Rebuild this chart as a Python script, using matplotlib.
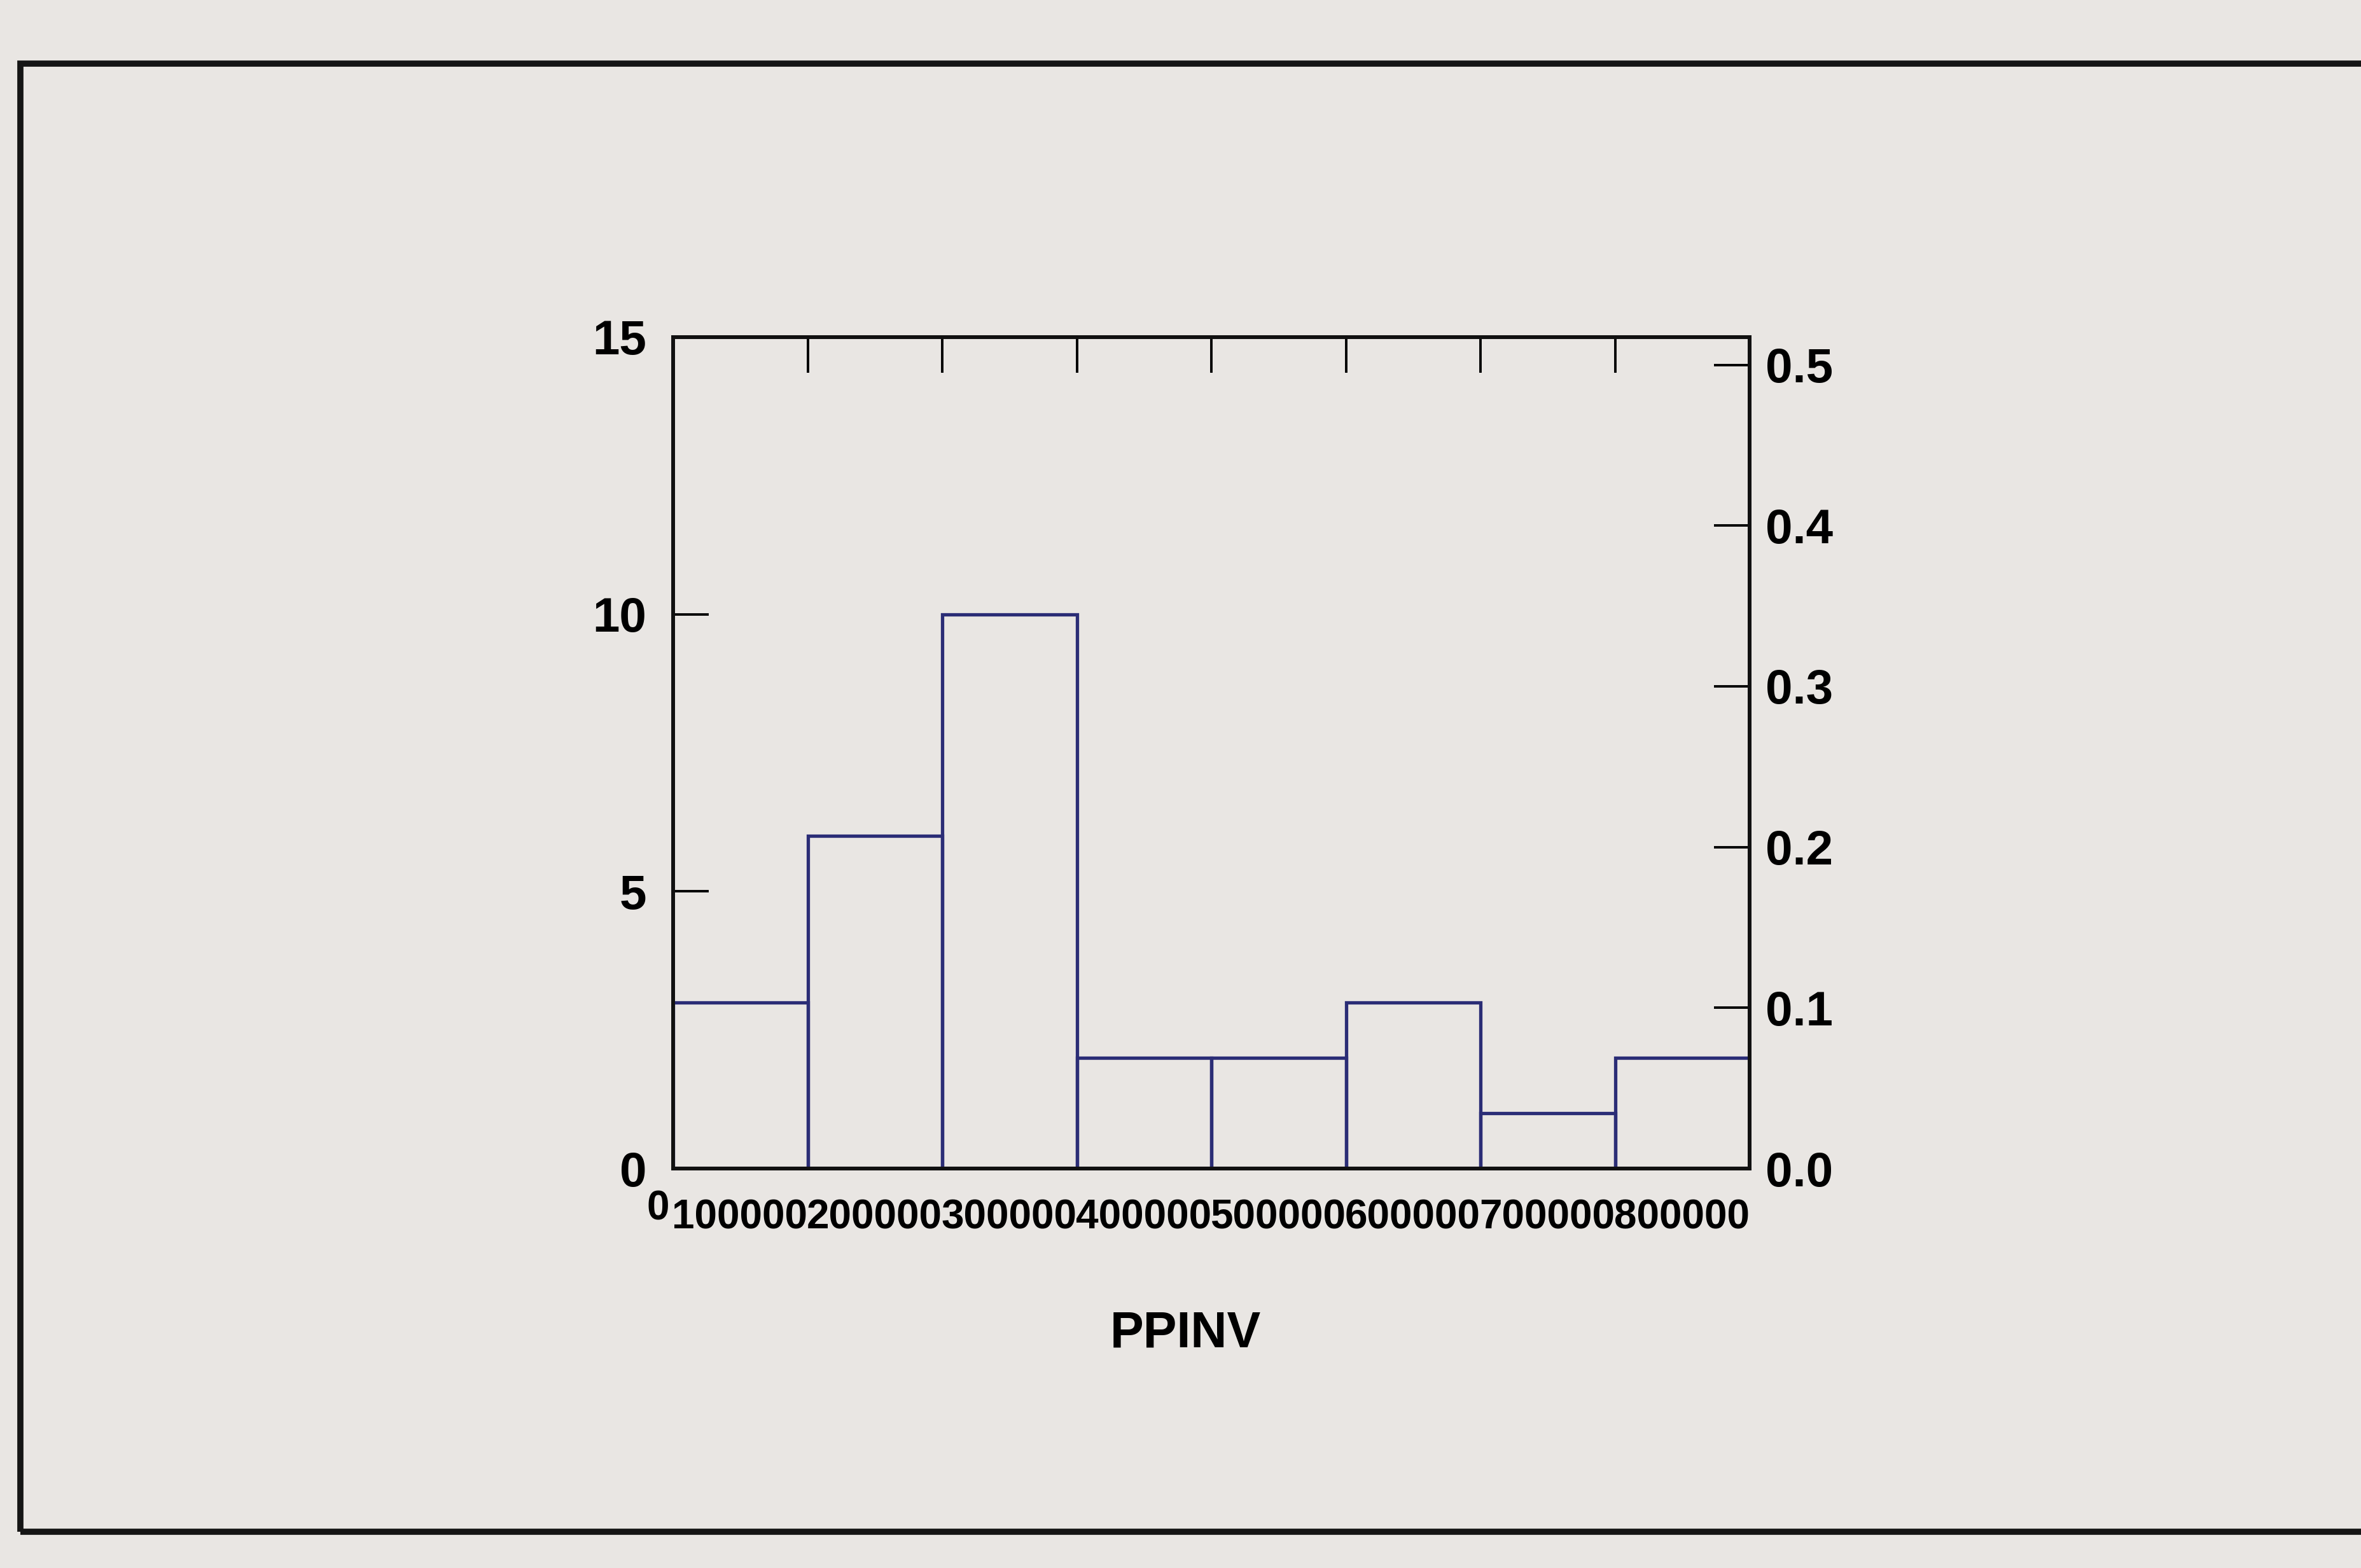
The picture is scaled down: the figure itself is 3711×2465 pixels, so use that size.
import numpy as np
import matplotlib
matplotlib.use("Agg")
import matplotlib.pyplot as plt
import matplotlib.transforms as mtransforms
from matplotlib.patches import Rectangle

# Histogram of PPINV: bin edges and counts per bin
bin_edges = [0, 100000, 200000, 300000, 400000, 500000, 600000, 700000, 800000]
counts = [3, 6, 10, 2, 2, 3, 1, 2]
count_ticks = [0, 5, 10, 15]
prop_ticks = [0.0, 0.1, 0.2, 0.3, 0.4, 0.5]
x_tick_labels = ["0", "100000", "200000", "300000", "400000",
                 "500000", "600000", "700000", "800000"]
x_label = "PPINV"

n_total = sum(counts)

plt.rcParams["font.family"] = ["Liberation Sans", "DejaVu Sans"]
plt.rcParams["font.weight"] = "bold"

W, H = 3712, 2465
fig = plt.figure(figsize=(W / 100, H / 100), dpi=100)
fig.patch.set_facecolor("#e9e6e3")

# window frame around the plot
frame = Rectangle((32 / W, 1 - 2408 / H), 1.3, (2408 - 100) / H,
                  transform=fig.transFigure, fill=False, lw=7,
                  ec="#151515", clip_on=False)
fig.patches.append(frame)

ax_l, ax_r, ax_t, ax_b = 1058, 2750, 530, 1837
ax = fig.add_axes([ax_l / W, 1 - ax_b / H, (ax_r - ax_l) / W, (ax_b - ax_t) / H])
ax.set_facecolor("none")

widths = np.diff(bin_edges)
ax.bar(bin_edges[:-1], counts, width=widths, align="edge", fill=False,
       edgecolor="#2b2d76", linewidth=3.8, zorder=3)

ax.set_xlim(bin_edges[0], bin_edges[-1])
ax.set_ylim(0, 15)
for sp in ax.spines.values():
    sp.set_linewidth(4.2)
    sp.set_color("#111111")

ax.set_yticks(count_ticks)
ax.set_yticklabels([str(t) for t in count_ticks])
ax.tick_params(axis="y", left=True, right=False, direction="in",
               length=40, width=2.8, labelsize=55, pad=30)

ax.set_xticks(bin_edges)
ax.set_xticklabels(x_tick_labels)
ax.tick_params(axis="x", bottom=False, top=True, labelbottom=True,
               labeltop=False, direction="in", length=40, width=2.8,
               labelsize=46, pad=34)
for lab in ax.get_xticklabels():
    lab.set_horizontalalignment("right")
# the leading "0" sits a little higher, just left of the first label
first = ax.get_xticklabels()[0]
first.set_transform(first.get_transform() +
                    mtransforms.ScaledTranslation(-6 / 100, 14 / 100,
                                                  fig.dpi_scale_trans))

ax.set_xlabel(x_label, fontsize=57, fontweight="bold")
ax.xaxis.set_label_coords((1863 - ax_l) / (ax_r - ax_l),
                          (ax_b - 2097) / (ax_b - ax_t))
ax.xaxis.label.set_verticalalignment("center")

# proportion axis on the right
ax2 = ax.twinx()
ax2.set_ylim(0, 15 / n_total)
ax2.set_yticks(prop_ticks)
ax2.set_yticklabels([f"{t:.1f}" for t in prop_ticks])
ax2.tick_params(axis="y", right=True, left=False, direction="in",
                length=40, width=2.8, labelsize=55, pad=18)
for sp in ax2.spines.values():
    sp.set_linewidth(4.2)
    sp.set_color("#111111")

fig.savefig("out.png", dpi=100, facecolor=fig.get_facecolor())
